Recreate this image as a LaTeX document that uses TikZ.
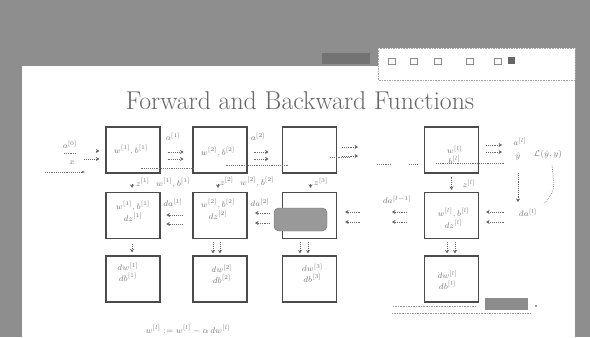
\documentclass[tikz,border=0pt]{standalone}
\usepackage{amsmath, amssymb}
\usetikzlibrary{calc}
\usetikzlibrary{positioning}
\usetikzlibrary{arrows.meta}
\definecolor{frame-gray}{RGB}{142, 142, 142}
\definecolor{ink-gray}{RGB}{120, 120, 120}
\definecolor{box-gray}{RGB}{75, 75, 75}

\begin{document}
\begin{tikzpicture}[x=0.03cm, y=-0.03cm,
  blk/.style={draw=box-gray, line width=1pt, minimum width=1.62cm, minimum height=1.38cm, inner sep=0pt},
  lbl/.style={text=ink-gray, font=\scriptsize, inner sep=1pt},
  fwd/.style={densely dotted, draw=black!60, line width=0.6pt, -{Stealth[length=3pt, width=3.5pt]}},
  cache/.style={densely dotted, draw=black!55, line width=0.6pt}]
\useasboundingbox (0,0) rectangle (590,337);
\fill[white] (0,0) rectangle (590,337);

% browser around the slide
\fill[frame-gray] (0,0) rectangle (590,66);
\fill[frame-gray] (0,0) rectangle (22,337);
\fill[frame-gray] (575,66) rectangle (590,337);
\fill[black!55] (322,53) rectangle (370,64);
\filldraw[fill=white, draw=black!35, densely dotted] (378,48) rectangle (575,80);
\foreach \x in {388,410,434,466,494}
  \draw[black!45] (\x,58) rectangle ++(7,6);
\fill[black!60] (508,57) rectangle ++(7,7);

\node[text=black!60, font=\fontsize{22}{26}\selectfont] (title) at (300,101) {Forward and Backward Functions};

% forward row
\node[blk] (f1) at (133,150) {};
\node[blk] (f2) at (220,150) {};
\node[blk] (f3) at (309.5,150) {};
\node[blk] (fl) at (451.5,150) {};
% backward row
\node[blk] (b1) at (133,215.5) {};
\node[blk] (b2) at (220,215.5) {};
\node[blk] (b3) at (309.5,215.5) {};
\node[blk] (bl) at (451.5,215.5) {};
% gradient row
\node[blk] (g1) at (133,279) {};
\node[blk] (g2) at (220,279) {};
\node[blk] (g3) at (309.5,279) {};
\node[blk] (gl) at (451.5,279) {};

% texts in the boxes
\node[lbl] (f1t) at ($(f1)+(-2,0)$) {$w^{[1]}, b^{[1]}$};
\node[lbl] (f2t) at ($(f2)+(-2,2)$) {$w^{[2]}, b^{[2]}$};
\node[lbl, align=center] (flt) at ($(fl)+(3,5)$) {$w^{[l]}$\\[1pt]$b^{[l]}$};
\node[lbl, align=center] (b1t) at ($(b1)+(0,-4)$) {$w^{[1]}, b^{[1]}$\\[1pt]$dz^{[1]}$};
\node[lbl, align=center] (b2t) at ($(b2)+(-2,-6)$) {$w^{[2]}, b^{[2]}$\\[1pt]$dz^{[2]}$};
\node[lbl, align=center] (blt) at ($(bl)+(2,3)$) {$w^{[l]}, b^{[l]}$\\[1pt]$dz^{[l]}$};
\node[lbl, align=center] (g1t) at ($(g1)+(-5,-7)$) {$dw^{[1]}$\\[1pt]$db^{[1]}$};
\node[lbl, align=center] (g2t) at ($(g2)+(2,-5)$) {$dw^{[2]}$\\[1pt]$db^{[2]}$};
\node[lbl, align=center] (g3t) at ($(g3)+(3,-6)$) {$dw^{[3]}$\\[1pt]$db^{[3]}$};
\node[lbl, align=center] (glt) at ($(gl)+(-4,1)$) {$dw^{[l]}$\\[1pt]$db^{[l]}$};
\filldraw[fill=black!40, draw=black!55, rounded corners=4pt] (274,208) rectangle (327,231);

% input
\node[lbl] (a0) at (70,145) {$a^{[0]}$};
\node[lbl] (x0) at (72,163) {$x$};
\draw[cache] ($(a0.south)+(-6,3)$) -- ++(13,0);
\draw[cache, -{Stealth[length=3pt]}] ($(x0)+(-27,9)$) -- ++(40,0);
\draw[fwd] ($(f1.west)+(-21,9)$) -- ++(15,0);
\draw[fwd] ($(f1.west)+(-9,1)$) -- ++(3,0);

% forward arrows and caches
\draw[fwd] ($(f1.east)+(7,2)$) -- ++(16,0);
\draw[fwd] ($(f1.east)+(7,9)$) -- ++(16,0);
\node[lbl] (a1) at (173,137) {$a^{[1]}$};
\draw[fwd] ($(f2.east)+(6,2)$) -- ++(15,0);
\draw[fwd] ($(f2.east)+(6,9)$) -- ++(15,0);
\node[lbl] (a2) at (258,137) {$a^{[2]}$};
\draw[fwd] ($(f3.east)+(5,-3)$) -- ++(16,0);
\draw[fwd] ($(f3.east)+(5,6)$) -- ++(16,0);
\draw[fwd] ($(fl.east)+(7,-5)$) -- ++(16,0);
\draw[fwd] ($(fl.east)+(7,2)$) -- ++(16,0);
\node[lbl] (al) at (520,142) {$a^{[l]}$};
\node[lbl] (yhat) at (518,156) {$\hat{y}$};
\draw[cache] ($(f1.south east)+(-20,-5)$) -- ($(f2.south west)+(2,-5)$);
\draw[cache] ($(f2.south east)+(-22,-8)$) -- ($(f3.south west)+(6,-8)$);
\draw[cache] ($(f3.south east)+(-7,-16)$) -- ++(20,0);
\draw[cache] (377,164) -- (391,164);
\draw[cache] (409,164) -- (418,164);
\draw[cache] ($(fl.south west)+(12,-10)$) -- ($(fl.south east)+(25,-10)$);

% loss
\node[lbl] (loss) at (548,154) {$\mathcal{L}(\hat{y},y)$};
\draw[cache] ($(loss.south)+(4,6)$) .. controls (555,190) .. (544,204);
\draw[fwd] ($(yhat.south)+(0,12)$) -- ++(0,29);
\node[lbl] (dal) at (528,213) {$da^{[l]}$};

% forward row to backward row
\draw[fwd] ($(f1.south)+(-1,10)$) -- ($(b1.north)+(-1,-4)$);
\node[lbl] (c1) at (163,183) {$z^{[1]}\ \ w^{[1]}, b^{[1]}$};
\draw[fwd] ($(f2.south)+(-2,10)$) -- ($(b2.north)+(-2,-4)$);
\node[lbl] (c2) at (247,182) {$z^{[2]}\ \ w^{[2]}, b^{[2]}$};
\draw[fwd] ($(f3.south)+(1,10)$) -- ($(b3.north)+(1,-4)$);
\node[lbl] (c3) at (321,182) {$z^{[3]}$};
\draw[fwd] ($(fl.south)+(0,3)$) -- ($(bl.north)+(0,-2)$);
\node[lbl] (cl) at (469,184) {$z^{[l]}$};

% backward arrows
\draw[fwd] ($(b2.west)+(-10,-0.5)$) -- ++(-16,0);
\draw[fwd] ($(b2.west)+(-10,8.5)$) -- ++(-16,0);
\node[lbl] (da1) at (173,203) {$da^{[1]}$};
\draw[fwd] ($(b3.west)+(-12,-2.5)$) -- ++(-15,0);
\draw[fwd] ($(b3.west)+(-12,7.5)$) -- ++(-15,0);
\node[lbl] (da2) at (260,203) {$da^{[2]}$};
\draw[fwd] ($(b3.east)+(23,-3.5)$) -- ++(-15,0);
\draw[fwd] ($(b3.east)+(23,6.5)$) -- ++(-15,0);
\draw[fwd] ($(bl.west)+(-17,-3.5)$) -- ++(-15,0);
\draw[fwd] ($(bl.west)+(-17,6.5)$) -- ++(-15,0);
\node[lbl] (dal1) at (397,200) {$da^{[l-1]}$};
\draw[fwd] ($(bl.east)+(25,-3.5)$) -- ++(-18,0);
\draw[fwd] ($(bl.east)+(25,6.5)$) -- ++(-18,0);

% backward row to gradients
\draw[fwd] ($(b1.south)+(-1,5)$) -- ($(g1.north)+(-1,-3)$);
\draw[fwd] ($(b2.south)+(-7,3)$) -- ($(g2.north)+(-7,-2)$);
\draw[fwd] ($(b2.south)+(0,3)$) -- ($(g2.north)+(0,-2)$);
\draw[fwd] ($(b3.south)+(-9.5,3)$) -- ($(g3.north)+(-9.5,-2)$);
\draw[fwd] ($(b3.south)+(-1.5,3)$) -- ($(g3.north)+(-1.5,-2)$);
\draw[fwd] ($(bl.south)+(-4.5,3)$) -- ($(gl.north)+(-4.5,-2)$);
\draw[fwd] ($(bl.south)+(3.5,3)$) -- ($(gl.north)+(3.5,-2)$);

\node[lbl] (upd) at (188,330) {$w^{[l]} := w^{[l]} - \alpha\, dw^{[l]}$};

% footer
\draw[black!40, densely dotted] (393,306) -- (476,306);
\draw[black!40, densely dotted] (392,313) -- (530,313);
\fill[black!45] (485,298) rectangle (528,310);
\fill[black!40] (535,305) rectangle ++(2,2);
\end{tikzpicture}
\end{document}
